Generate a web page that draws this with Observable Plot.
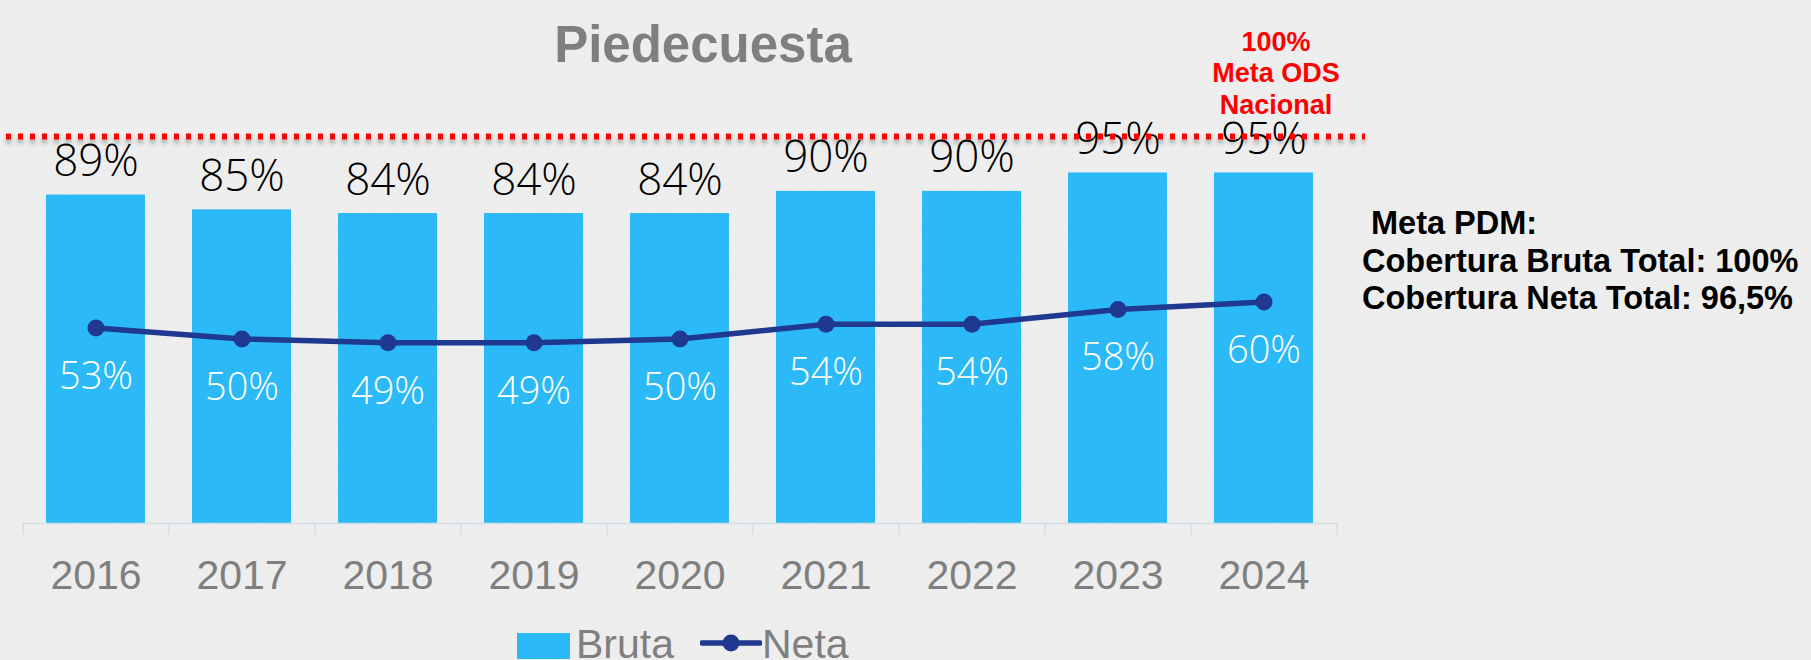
<!DOCTYPE html>
<html>
<head>
<meta charset="utf-8">
<script src="https://cdn.jsdelivr.net/npm/d3@7"></script>
<script src="https://cdn.jsdelivr.net/npm/@observablehq/plot@0.6"></script>
<style>
  html, body { margin: 0; padding: 0; background: #ececec; overflow: hidden; }
  #wrap { position: relative; width: 1811px; height: 660px; overflow: hidden; background-color: #f0f0f0;
          background-image: url("data:image/svg+xml;utf8,<svg xmlns='http://www.w3.org/2000/svg' width='300' height='300'><filter id='n'><feTurbulence type='fractalNoise' baseFrequency='0.85' numOctaves='2' stitchTiles='stitch'/><feColorMatrix type='saturate' values='0'/></filter><rect width='100%' height='100%' filter='url(%23n)' opacity='0.1'/></svg>"); }
  #chart { position: absolute; left: 0; top: 0; }
  .title { position: absolute; left: 403px; width: 600px; top: 19px; text-align: center;
           font: bold 51px/51px "Liberation Sans", Arial, sans-serif; color: #7f7f7f; }
  .pdm { position: absolute; left: 1362px; top: 205px; font: bold 32.5px/37.5px "Liberation Sans", Arial, sans-serif;
         color: #000; white-space: pre; }
  .legend { position: absolute; top: 0; left: 0; font: 41px/41px "Liberation Sans", Arial, sans-serif; color: #7f7f7f; }
  .legend span { position: absolute; top: 624px; white-space: nowrap; }
  .sw { position: absolute; left: 517px; top: 633px; width: 53px; height: 26px; background: #2bb9f7; }
</style>
</head>
<body>
<div id="wrap">
  <div id="chart"></div>
  <div class="title" id="title"></div>
  <div class="pdm" id="pdm"></div>
  <div class="legend" id="legend"></div>
</div>
<script>
const years = ["2016", "2017", "2018", "2019", "2020", "2021", "2022", "2023", "2024"];
const bruta = [89, 85, 84, 84, 84, 90, 90, 95, 95];
const neta = [53, 50, 49, 49, 50, 54, 54, 58, 60];
const metaOds = 100;
const metaOdsLabel = "100%\nMeta ODS\nNacional";
const titleText = "Piedecuesta";
const pdmLines = [" Meta PDM:", "Cobertura Bruta Total: 100%", "Cobertura Neta Total: 96,5%"];
const seriesNames = ["Bruta", "Neta"];

const colorBruta = "#2bb9f7";
const colorNeta = "#1f3990";

const data = years.map((y, i) => ({year: y, bruta: bruta[i], neta: neta[i]}));

const chart = Plot.plot({
  width: 1811,
  height: 660,
  marginLeft: 23,
  marginRight: 474,
  marginTop: 154,
  marginBottom: 137,
  style: {background: "transparent", fontFamily: "'Liberation Sans', Arial, sans-serif", overflow: "visible"},
  x: {type: "band", domain: years, paddingInner: 0.32, paddingOuter: 0.16, label: null},
  y: {domain: [0, 100], axis: null},
  marks: [
    Plot.barY(data, {x: "year", y: "bruta", fill: colorBruta}),
    Plot.ruleY([0], {stroke: "#d3dde8", strokeWidth: 1.5}),
    Plot.ruleX(years, {x: d => d, y1: 0, y2: 0, dx: -73, insetBottom: -12, stroke: "#d3dde8", strokeWidth: 1.5}),
    Plot.ruleX(years.slice(-1), {x: d => d, y1: 0, y2: 0, dx: 73, insetBottom: -12, stroke: "#d3dde8", strokeWidth: 1.5}),
    Plot.axisX({tickSize: 0, tickPadding: 36, fontSize: 41, color: "#7f7f7f", label: null}),
    Plot.text(data, {x: "year", y: "bruta", text: d => d.bruta + "%", dy: -19, lineAnchor: "bottom",
      fontSize: 44, fontFamily: "'Open Sans', sans-serif", fontWeight: 300, fill: "#000"}),
    Plot.line(data, {x: "year", y: "neta", stroke: colorNeta, strokeWidth: 5.5}),
    Plot.dot(data, {x: "year", y: "neta", r: 8.5, fill: colorNeta}),
    Plot.text(data, {x: "year", y: "neta", text: d => d.neta + "%", dy: 34, lineAnchor: "top",
      fontSize: 38, fontFamily: "'Open Sans', sans-serif", fontWeight: 300, fill: "#fff"}),
    Plot.ruleY([metaOds], {stroke: "#ff0000", strokeWidth: 6, strokeDasharray: "5,7", dy: -18, insetLeft: -17, insetRight: -28}),
    Plot.text([metaOds], {x: () => years[years.length - 1], y: d => d, text: () => metaOdsLabel, dx: 12, dy: -41,
      lineAnchor: "bottom", lineHeight: 1.157, fontSize: 27, fontWeight: "bold", fill: "#ff0000"})
  ]
});
document.getElementById("chart").appendChild(chart);
const redRule = chart.querySelector('g[stroke="#ff0000"]');
if (redRule) redRule.style.filter = "drop-shadow(0px 4px 2px rgba(0,0,0,0.3))";

document.getElementById("title").textContent = titleText;
document.getElementById("pdm").textContent = pdmLines.join("\n");

const legend = document.getElementById("legend");
legend.innerHTML = `
  <div class="sw"></div>
  <span style="left:576px">${seriesNames[0]}</span>
  <svg style="position:absolute;left:700px;top:632px" width="62" height="24">
    <line x1="2" y1="11" x2="60" y2="11" stroke="${colorNeta}" stroke-width="5.5" stroke-linecap="round"/>
    <circle cx="31" cy="11" r="8.5" fill="${colorNeta}"/>
  </svg>
  <span style="left:762px">${seriesNames[1]}</span>`;
</script>
</body>
</html>
